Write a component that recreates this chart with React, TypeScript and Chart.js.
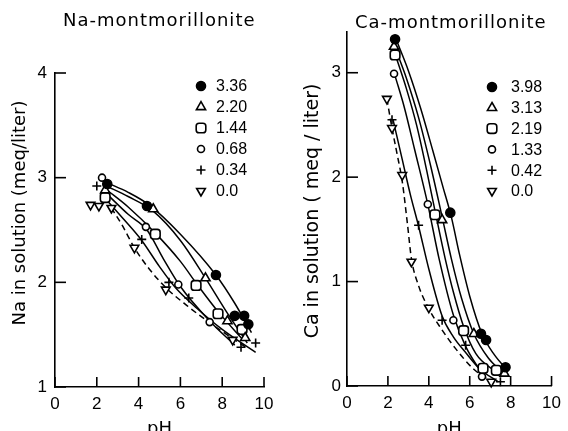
import React, { useEffect, useRef } from 'react';
import { Chart, registerables } from 'chart.js';
import { drawPoint } from 'chart.js/helpers';

Chart.register(...registerables);

// ---------- Data ----------
const naLevels = ['3.36', '2.20', '1.44', '0.68', '0.34', '0.0'];
const caLevels = ['3.98', '3.13', '2.19', '1.33', '0.42', '0.0'];
const xTickValues = [0, 2, 4, 6, 8, 10];
const naYTicks = [1, 2, 3, 4];
const caYTicks = [0, 1, 2, 3];

// Na-montmorillonite measured points (pH, Na meq/liter)
const naPH336 = [2.5, 4.4, 7.7, 8.6, 9.05, 9.25];
const naVal336 = [2.94, 2.73, 2.07, 1.68, 1.68, 1.6];
const naPH220 = [2.4, 4.7, 7.2, 8.25, 9.1];
const naVal220 = [2.88, 2.7, 2.04, 1.63, 1.47];
const naPH144 = [2.4, 4.8, 6.75, 7.8, 8.95];
const naVal144 = [2.81, 2.46, 1.97, 1.7, 1.55];
const naPH068 = [2.25, 4.35, 5.9, 7.4];
const naVal068 = [3.0, 2.53, 1.98, 1.62];
const naPH034 = [2.0, 4.15, 5.45, 6.4, 8.9, 9.6];
const naVal034 = [2.92, 2.41, 2.0, 1.85, 1.38, 1.42];
const naPH000 = [1.7, 2.1, 2.7, 3.8, 5.3, 8.5];
const naVal000 = [2.74, 2.73, 2.71, 2.33, 1.93, 1.45];

// Na-montmorillonite fitted curves
const naCurvePH336 = [2.5, 3.5, 4.5, 6.0, 7.7, 8.6, 9.4];
const naCurveVal336 = [2.95, 2.86, 2.74, 2.46, 2.07, 1.8, 1.52];
const naCurvePH220 = [2.45, 3.5, 4.7, 6.0, 7.2, 8.2, 9.2];
const naCurveVal220 = [2.92, 2.82, 2.68, 2.4, 2.04, 1.72, 1.42];
const naCurvePH144 = [2.5, 3.5, 4.8, 6.0, 6.8, 7.8, 9.0];
const naCurveVal144 = [2.88, 2.72, 2.47, 2.2, 1.98, 1.72, 1.45];
const naCurvePH068 = [2.5, 3.5, 4.4, 5.2, 6.0, 7.4, 8.6];
const naCurveVal068 = [2.84, 2.65, 2.5, 2.22, 1.96, 1.63, 1.4];
const naCurvePH034 = [2.5, 3.3, 4.15, 5.0, 5.8, 6.8, 8.0, 9.6];
const naCurveVal034 = [2.78, 2.6, 2.4, 2.15, 1.94, 1.75, 1.55, 1.33];
const naCurvePH000 = [2.7, 3.2, 3.8, 4.5, 5.3, 6.3, 7.5, 8.6, 9.2];
const naCurveVal000 = [2.71, 2.55, 2.33, 2.13, 1.95, 1.78, 1.6, 1.45, 1.37];

// Ca-montmorillonite measured points (pH, Ca meq/liter)
const caPH398 = [2.35, 5.05, 6.55, 6.8, 7.75];
const caVal398 = [3.32, 1.66, 0.5, 0.44, 0.18];
const caPH313 = [2.3, 4.65, 6.2, 7.7];
const caVal313 = [3.25, 1.59, 0.5, 0.12];
const caPH219 = [2.35, 4.3, 5.7, 6.65, 7.3];
const caVal219 = [3.17, 1.64, 0.53, 0.17, 0.15];
const caPH133 = [2.3, 3.95, 5.2, 6.6];
const caVal133 = [2.99, 1.74, 0.63, 0.09];
const caPH042 = [2.2, 3.5, 4.65, 5.8, 7.5];
const caVal042 = [2.55, 1.54, 0.63, 0.39, 0.04];
const caPH000 = [1.95, 2.2, 2.7, 3.15, 4.0, 7.05];
const caVal000 = [2.75, 2.47, 2.02, 1.19, 0.75, 0.04];

// Ca-montmorillonite fitted curves
const caCurvePH398 = [2.4, 3.0, 3.6, 4.2, 4.7, 5.1, 5.5, 6.0, 6.6, 7.2, 7.8];
const caCurveVal398 = [3.32, 3.02, 2.66, 2.25, 1.9, 1.62, 1.26, 0.86, 0.5, 0.3, 0.16];
const caCurvePH313 = [2.35, 2.9, 3.5, 4.1, 4.65, 5.1, 5.6, 6.2, 6.9, 7.6];
const caCurveVal313 = [3.24, 2.95, 2.57, 2.1, 1.62, 1.22, 0.84, 0.5, 0.27, 0.13];
const caCurvePH219 = [2.4, 2.9, 3.4, 3.9, 4.3, 4.8, 5.2, 5.7, 6.3, 7.3];
const caCurveVal219 = [3.15, 2.85, 2.5, 2.06, 1.68, 1.22, 0.9, 0.57, 0.31, 0.13];
const caCurvePH133 = [2.35, 2.8, 3.3, 3.95, 4.5, 5.2, 5.8, 6.6];
const caCurveVal133 = [2.97, 2.67, 2.27, 1.74, 1.22, 0.68, 0.38, 0.12];
const caCurvePH042 = [2.25, 2.7, 3.1, 3.5, 4.0, 4.65, 5.2, 5.8, 6.5, 7.4];
const caCurveVal042 = [2.55, 2.17, 1.83, 1.53, 1.12, 0.67, 0.47, 0.32, 0.16, 0.04];
const caCurvePH000 = [1.95, 2.2, 2.45, 2.7, 2.95, 3.15, 3.5, 4.0, 4.6, 5.3, 6.2, 7.0];
const caCurveVal000 = [2.75, 2.47, 2.22, 1.96, 1.56, 1.22, 0.96, 0.74, 0.55, 0.36, 0.16, 0.05];

const naX = [naPH336, naPH220, naPH144, naPH068, naPH034, naPH000];
const naY = [naVal336, naVal220, naVal144, naVal068, naVal034, naVal000];
const naCX = [naCurvePH336, naCurvePH220, naCurvePH144, naCurvePH068, naCurvePH034, naCurvePH000];
const naCY = [naCurveVal336, naCurveVal220, naCurveVal144, naCurveVal068, naCurveVal034, naCurveVal000];
const caX = [caPH398, caPH313, caPH219, caPH133, caPH042, caPH000];
const caY = [caVal398, caVal313, caVal219, caVal133, caVal042, caVal000];
const caCX = [caCurvePH398, caCurvePH313, caCurvePH219, caCurvePH133, caCurvePH042, caCurvePH000];
const caCY = [caCurveVal398, caCurveVal313, caCurveVal219, caCurveVal133, caCurveVal042, caCurveVal000];

// ---------- Styles ----------
const markers = [
  { pointStyle: 'circle', radius: 4.5, fill: '#000', rotation: 0, dash: [] as number[] },
  { pointStyle: 'triangle', radius: 5.3, fill: '#fff', rotation: 0, dash: [] as number[] },
  { pointStyle: 'rectRounded', radius: 5.6, fill: '#fff', rotation: 0, dash: [] as number[] },
  { pointStyle: 'circle', radius: 3.5, fill: '#fff', rotation: 0, dash: [] as number[] },
  { pointStyle: 'cross', radius: 4.5, fill: '#fff', rotation: 0, dash: [] as number[] },
  { pointStyle: 'triangle', radius: 5.0, fill: '#fff', rotation: 180, dash: [6, 4] },
];

const TICK_FONT = { family: '"Liberation Sans", Arial, sans-serif', size: 17 };
const TITLE_FONT = { family: '"DejaVu Sans", sans-serif', size: 18 };

const decorPlugin = {
  id: 'decor',
  afterDraw(chart: any, _args: any, opts: any) {
    const ctx = chart.ctx as CanvasRenderingContext2D;
    const xs = chart.scales.x;
    const ys = chart.scales.y;
    ctx.save();
    ctx.strokeStyle = '#000';
    ctx.lineWidth = 1.6;
    ctx.setLineDash([]);
    // inward tick marks
    xs.ticks.forEach((t: any) => {
      const px = xs.getPixelForValue(t.value);
      ctx.beginPath();
      ctx.moveTo(px, ys.bottom);
      ctx.lineTo(px, ys.bottom - 10);
      ctx.stroke();
    });
    ys.ticks.forEach((t: any) => {
      const py = ys.getPixelForValue(t.value);
      ctx.beginPath();
      ctx.moveTo(xs.left, py);
      ctx.lineTo(xs.left + 11, py);
      ctx.stroke();
    });
    ctx.fillStyle = '#000';
    ctx.textBaseline = 'middle';
    // y-axis title (rotated)
    ctx.save();
    ctx.translate(opts.yTitleX, opts.yTitleY);
    ctx.rotate(-Math.PI / 2);
    ctx.textAlign = 'center';
    ctx.font = `${opts.yTitleSize}px "DejaVu Sans", sans-serif`;
    ctx.fillText(opts.yTitle, 0, 0);
    ctx.restore();
    // panel title
    ctx.textAlign = 'left';
    ctx.font = '18px "DejaVu Sans", sans-serif';
    (ctx as any).letterSpacing = '1px';
    ctx.fillText(opts.title, opts.titleX, opts.titleY);
    (ctx as any).letterSpacing = '0px';
    // legend
    ctx.font = '16px "Liberation Sans", Arial, sans-serif';
    opts.labels.forEach((label: string, i: number) => {
      const m = markers[i];
      const y = opts.legendY + i * opts.legendStep;
      ctx.fillStyle = m.fill;
      ctx.strokeStyle = '#000';
      ctx.lineWidth = 1.6;
      drawPoint(ctx, { pointStyle: m.pointStyle as any, radius: m.radius, rotation: m.rotation, borderWidth: 1.6 } as any, opts.legendX, y);
      ctx.fillStyle = '#000';
      ctx.fillText(label, opts.legendTextX, y + 1);
    });
    ctx.restore();
  },
};

type PanelProps = {
  left: number;
  title: string;
  titleX: number;
  titleY: number;
  yTitle: string;
  yTitleX: number;
  yTitleY: number;
  yTitleSize: number;
  levels: string[];
  xs: number[][];
  ys: number[][];
  cxs: number[][];
  cys: number[][];
  yMin: number;
  yMax: number;
  yTicks: number[];
  axisWidth: number;
  axisHeight: number;
  padTop: number;
  padRight: number;
  legendX: number;
  legendTextX: number;
  legendY: number;
  legendStep: number;
  yLabelPad: number;
};

const W = 284;
const H = 440;

function Panel(p: PanelProps) {
  const ref = useRef<HTMLCanvasElement | null>(null);
  useEffect(() => {
    if (!ref.current) return;
    const pointSets = p.xs.map((xArr, i) => {
      const m = markers[i];
      return {
        label: p.levels[i],
        order: 0,
        data: xArr.map((x, j) => ({ x, y: p.ys[i][j] })),
        showLine: false,
        pointStyle: m.pointStyle as any,
        pointRadius: m.radius,
        pointRotation: m.rotation,
        pointBackgroundColor: m.fill,
        pointBorderColor: '#000',
        pointBorderWidth: 1.6,
        clip: false as any,
      };
    });
    const curveSets = p.cxs.map((xArr, i) => {
      const m = markers[i];
      return {
        label: p.levels[i] + ' curve',
        order: 1,
        data: xArr.map((x, j) => ({ x, y: p.cys[i][j] })),
        showLine: true,
        borderColor: '#000',
        borderWidth: 1.5,
        borderDash: m.dash,
        cubicInterpolationMode: 'monotone' as const,
        pointRadius: 0,
        fill: false,
        clip: false as any,
      };
    });
    const chart = new Chart(ref.current, {
      type: 'scatter',
      data: { datasets: [...pointSets, ...curveSets] },
      plugins: [decorPlugin],
      options: {
        animation: false,
        responsive: false,
        devicePixelRatio: 1,
        layout: { padding: { left: 0, right: p.padRight, top: p.padTop, bottom: 0 } },
        plugins: {
          legend: { display: false },
          tooltip: { enabled: false },
          decor: {
            title: p.title,
            titleX: p.titleX,
            titleY: p.titleY,
            yTitle: p.yTitle,
            yTitleX: p.yTitleX,
            yTitleY: p.yTitleY,
            yTitleSize: p.yTitleSize,
            labels: p.levels,
            legendX: p.legendX,
            legendTextX: p.legendTextX,
            legendY: p.legendY,
            legendStep: p.legendStep,
          },
        } as any,
        scales: {
          x: {
            type: 'linear',
            min: 0,
            max: 10,
            afterBuildTicks: (s: any) => {
              s.ticks = xTickValues.map((v) => ({ value: v }));
            },
            afterFit: (s: any) => {
              s.height = p.axisHeight;
            },
            grid: { display: false, drawTicks: false },
            border: { display: true, color: '#000', width: 1.6 },
            ticks: { font: TICK_FONT, color: '#000', padding: 7, maxRotation: 0 },
            title: { display: true, text: 'pH', font: TITLE_FONT, color: '#000', padding: { top: 3, bottom: 0 } },
          },
          y: {
            type: 'linear',
            min: p.yMin,
            max: p.yMax,
            afterBuildTicks: (s: any) => {
              s.ticks = p.yTicks.map((v) => ({ value: v }));
            },
            afterFit: (s: any) => {
              s.width = p.axisWidth;
            },
            grid: { display: false, drawTicks: false },
            border: { display: true, color: '#000', width: 1.6 },
            ticks: { font: TICK_FONT, color: '#000', padding: p.yLabelPad },
            title: { display: false },
          },
        },
      } as any,
    });
    return () => chart.destroy();
  }, []);
  return (
    <div style={{ position: 'absolute', left: p.left, top: 0, width: W, height: H }}>
      <canvas ref={ref} width={W} height={H} style={{ width: W, height: H, display: 'block' }} />
    </div>
  );
}

export default function App() {
  return (
    <div style={{ position: 'fixed', left: 0, top: 0, width: 568, height: 431, overflow: 'hidden', background: '#fff' }}>
      <Panel
        left={0}
        title="Na-montmorillonite"
        titleX={63}
        titleY={21}
        yTitle="Na in solution (meq/liter)"
        yTitleX={20}
        yTitleY={213}
        yTitleSize={18}
        levels={naLevels}
        xs={naX}
        ys={naY}
        cxs={naCX}
        cys={naCY}
        yMin={1}
        yMax={4}
        yTicks={naYTicks}
        axisWidth={55}
        axisHeight={53}
        padTop={73}
        padRight={20}
        legendX={201}
        legendTextX={216}
        legendY={86}
        legendStep={21}
        yLabelPad={8}
      />
      <Panel
        left={284}
        title="Ca-montmorillonite"
        titleX={71}
        titleY={23}
        yTitle="Ca in solution ( meq / liter)"
        yTitleX={29}
        yTitleY={211}
        yTitleSize={19}
        levels={caLevels}
        xs={caX}
        ys={caY}
        cxs={caCX}
        cys={caCY}
        yMin={0}
        yMax={3.39}
        yTicks={caYTicks}
        axisWidth={63}
        axisHeight={54}
        padTop={32}
        padRight={11}
        legendX={208}
        legendTextX={227}
        legendY={87}
        legendStep={20.8}
        yLabelPad={6}
      />
    </div>
  );
}
